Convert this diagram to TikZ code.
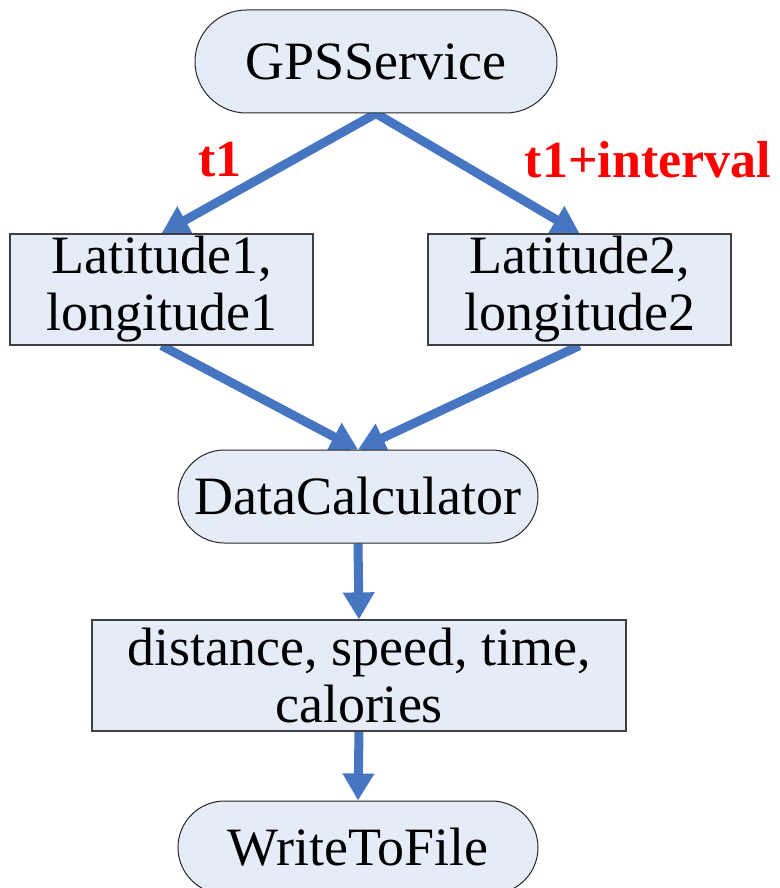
\documentclass[tikz,border=0pt]{standalone}
\usepackage{fontspec}
\setmainfont{Liberation Serif}
\usetikzlibrary{arrows.meta,shapes.misc,backgrounds}
\definecolor{flowblue}{RGB}{70,117,193}
\definecolor{boxfill}{RGB}{230,236,247}
\definecolor{labelred}{RGB}{255,0,0}

\begin{document}
\begin{tikzpicture}[x=1pt,y=-1pt,
  txt/.style={font=\fontsize{54}{57}\selectfont, align=center, inner sep=0pt},
  pill/.style={txt, rounded rectangle, draw=black!85, line width=1pt, fill=boxfill},
  databox/.style={txt, rectangle, draw=black!75, line width=1.2pt, fill=boxfill},
  flow/.style={draw=flowblue, line width=9pt, -{Triangle[width=30pt,length=27pt]}},
  timelabel/.style={font=\bfseries\fontsize{52}{52}\selectfont, text=labelred, inner sep=0pt}
]
\useasboundingbox (0,0) rectangle (779,888);

% processing steps
\node[pill, minimum width=362pt, minimum height=103pt] (gps) at (376,61.5) {GPSService};
\node[databox, minimum width=303pt, minimum height=111pt] (lat1) at (161.5,289.5) {Latitude1,\\longitude1};
\node[databox, minimum width=303pt, minimum height=111pt] (lat2) at (579.5,289.5) {Latitude2,\\longitude2};
\node[pill, minimum width=360pt, minimum height=93pt] (calc) at (358,496.5) {DataCalculator};
\node[databox, minimum width=534pt, minimum height=111pt] (dist) at (359,675.5) {distance, speed, time,\\calories};
\node[pill, minimum width=360pt, minimum height=93pt] (write) at (358,847.5) {WriteToFile};

% sampling times
\node[timelabel] (t1) at (220,160) {t1};
\node[timelabel] (t2) at (648,160) {t1+interval};

% data flow
\begin{scope}[on background layer]
  \draw[flow] (gps.south) -- (lat1.north);
  \draw[flow] (gps.south) -- (lat2.north);
  \draw[flow] (lat1.south) -- (calc.north);
  \draw[flow] (lat2.south) -- (calc.north);
  \draw[flow] (calc.south) -- (dist.north);
  \draw[flow] (dist.south) -- (write.north);
\end{scope}
\end{tikzpicture}
\end{document}
